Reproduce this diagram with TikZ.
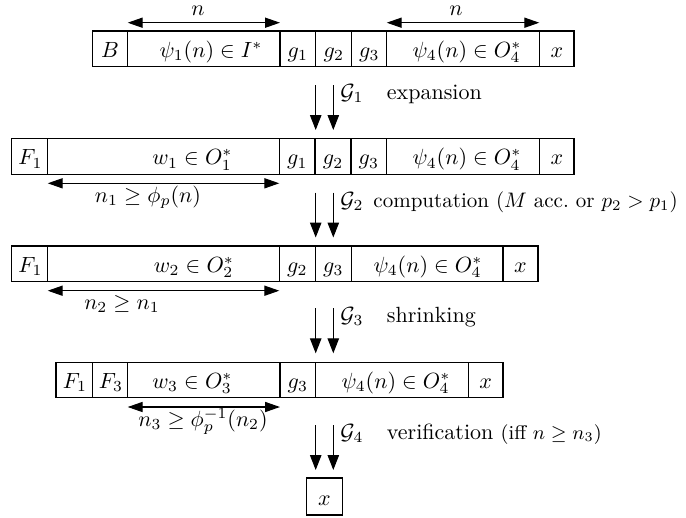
\documentclass[tikz,border=0pt]{standalone}
\usepackage{amsmath,amssymb}
\usetikzlibrary{arrows.meta,fit}
\begin{document}
\begin{tikzpicture}[x=0.4545pt,y=-0.4545pt,
  cell/.style={draw, line width=0.5pt, inner sep=0pt},
  txt/.style={anchor=base, inner sep=0pt},
  side/.style={anchor=base west, inner sep=0pt},
  harrow/.style={{Triangle[length=6.8pt,width=4.6pt]}-{Triangle[length=6.8pt,width=4.6pt]}, line width=0.5pt},
  varrow/.style={-{Triangle[length=6.8pt,width=5.2pt]}, line width=0.5pt}]
\useasboundingbox (0,0) rectangle (686,517);

% ---------- Row 1 ----------
\node[cell, fit={(92.3,31) (127.7,66.7)}]  (r1B) {};
\node[cell, fit={(127.7,31) (280,66.7)}]   (r1p) {};
\node[cell, fit={(280,31) (315.7,66.7)}]   (r1g1) {};
\node[cell, fit={(315.7,31) (351.7,66.7)}] (r1g2) {};
\node[cell, fit={(351.7,31) (386.7,66.7)}] (r1g3) {};
\node[cell, fit={(386.7,31) (539.3,66.7)}] (r1q) {};
\node[cell, fit={(539.3,31) (574,66.7)}]   (r1x) {};
\node[txt] (t1B)  at (110,57.3)   {$B$};
\node[txt] (t1p)  at (211,57.3)   {$\psi_1(n)\in I^*$};
\node[txt] (t1g1) at (297.8,57.3) {$g_1$};
\node[txt] (t1g2) at (333.7,57.3) {$g_2$};
\node[txt] (t1g3) at (369.2,57.3) {$g_3$};
\node[txt] (t1q)  at (467,57.3)   {$\psi_4(n)\in O_4^*$};
\node[txt] (t1x)  at (557,57.3)   {$x$};
\coordinate (h1a) at (127.7,22.7); \coordinate (h1b) at (280,22.7);
\coordinate (h1c) at (386.7,22.7); \coordinate (h1d) at (539.3,22.7);
\draw[harrow] (h1a) -- (h1b);
\draw[harrow] (h1c) -- (h1d);
\node[txt] (n1l) at (198,15.5) {$n$};
\node[txt] (n1r) at (456,15.5) {$n$};

% ---------- arrow 1 ----------
\coordinate (a1s) at (315.7,85);  \coordinate (a1e) at (315.7,130);
\coordinate (b1s) at (333.3,85);  \coordinate (b1e) at (333.3,130);
\draw[varrow] (a1s) -- (a1e);
\draw[varrow] (b1s) -- (b1e);
\node[side] (G1) at (340,99.5) {$\mathcal{G}_1$};
\node[side] (L1) at (386.5,99.5) {expansion};

% ---------- Row 2 ----------
\node[cell, fit={(11.7,138.3) (47.7,174.3)}]  (r2F) {};
\node[cell, fit={(47.7,138.3) (279.3,174.3)}] (r2w) {};
\node[cell, fit={(279.3,138.3) (315,174.3)}]  (r2g1) {};
\node[cell, fit={(315,138.3) (351,174.3)}]    (r2g2) {};
\node[cell, fit={(351,138.3) (386.7,174.3)}]  (r2g3) {};
\node[cell, fit={(386.7,138.3) (539.3,174.3)}] (r2q) {};
\node[cell, fit={(539.3,138.3) (574,174.3)}]  (r2x) {};
\node[txt] (t2F)  at (30.5,164.8)  {$F_1$};
\node[txt] (t2w)  at (192.5,164.8) {$w_1\in O_1^*$};
\node[txt] (t2g1) at (297.2,164.8) {$g_1$};
\node[txt] (t2g2) at (333,164.8)   {$g_2$};
\node[txt] (t2g3) at (368.8,164.8) {$g_3$};
\node[txt] (t2q)  at (467,164.8)   {$\psi_4(n)\in O_4^*$};
\node[txt] (t2x)  at (557,164.8)   {$x$};
\coordinate (h2a) at (47.7,183.3); \coordinate (h2b) at (279.3,183.3);
\draw[harrow] (h2a) -- (h2b);
\node[txt] (m2) at (148,202.5) {$n_1\geq \phi_p(n)$};

% ---------- arrow 2 ----------
\coordinate (a2s) at (315.7,192.5);  \coordinate (a2e) at (315.7,237.5);
\coordinate (b2s) at (333.3,192.5);  \coordinate (b2e) at (333.3,237.5);
\draw[varrow] (a2s) -- (a2e);
\draw[varrow] (b2s) -- (b2e);
\node[side] (G2) at (340,207) {$\mathcal{G}_2$};
\node[side] (L2) at (373,207) {\scalebox{0.955}{computation ($M$ acc.\ or $p_2>p_1$)}};

% ---------- Row 3 ----------
\node[cell, fit={(11.7,246) (47.7,281.7)}]   (r3F) {};
\node[cell, fit={(47.7,246) (279.3,281.7)}]  (r3w) {};
\node[cell, fit={(279.3,246) (315.3,281.7)}] (r3g2) {};
\node[cell, fit={(315.3,246) (351.3,281.7)}] (r3g3) {};
\node[cell, fit={(351.3,246) (503,281.7)}]   (r3q) {};
\node[cell, fit={(503,246) (538,281.7)}]     (r3x) {};
\node[txt] (t3F)  at (30.5,272.2)  {$F_1$};
\node[txt] (t3w)  at (194,272.2)   {$w_2\in O_2^*$};
\node[txt] (t3g2) at (297.3,272.2) {$g_2$};
\node[txt] (t3g3) at (333.3,272.2) {$g_3$};
\node[txt] (t3q)  at (428,272.2)   {$\psi_4(n)\in O_4^*$};
\node[txt] (t3x)  at (520.5,272.2) {$x$};
\coordinate (h3a) at (47.7,290.7); \coordinate (h3b) at (279.3,290.7);
\draw[harrow] (h3a) -- (h3b);
\node[txt] (m3) at (122,309.5) {$n_2\geq n_1$};

% ---------- arrow 3 ----------
\coordinate (a3s) at (315.7,308.3);  \coordinate (a3e) at (315.7,353.3);
\coordinate (b3s) at (333.3,308.3);  \coordinate (b3e) at (333.3,353.3);
\draw[varrow] (a3s) -- (a3e);
\draw[varrow] (b3s) -- (b3e);
\node[side] (G3) at (340,322.5) {$\mathcal{G}_3$};
\node[side] (L3) at (386.5,322.5) {shrinking};

% ---------- Row 4 ----------
\node[cell, fit={(56,362.7) (92.3,397.7)}]    (r4F1) {};
\node[cell, fit={(92.3,362.7) (127.7,397.7)}] (r4F3) {};
\node[cell, fit={(127.7,362.7) (280,397.7)}]  (r4w) {};
\node[cell, fit={(280,362.7) (315.7,397.7)}]  (r4g3) {};
\node[cell, fit={(315.7,362.7) (468.3,397.7)}] (r4q) {};
\node[cell, fit={(468.3,362.7) (503,397.7)}]  (r4x) {};
\node[txt] (t4F1) at (75,388.3)    {$F_1$};
\node[txt] (t4F3) at (111,388.3)   {$F_3$};
\node[txt] (t4w)  at (192.5,388.3) {$w_3\in O_3^*$};
\node[txt] (t4g3) at (297.8,388.3) {$g_3$};
\node[txt] (t4q)  at (396,388.3)   {$\psi_4(n)\in O_4^*$};
\node[txt] (t4x)  at (485.6,388.3) {$x$};
\coordinate (h4a) at (127.7,407); \coordinate (h4b) at (280,407);
\draw[harrow] (h4a) -- (h4b);
\node[txt] (m4) at (203,426.5) {$n_3\geq \phi_p^{-1}(n_2)$};

% ---------- arrow 4 ----------
\coordinate (a4s) at (315.7,425);  \coordinate (a4e) at (315.7,470);
\coordinate (b4s) at (333.3,425);  \coordinate (b4e) at (333.3,470);
\draw[varrow] (a4s) -- (a4e);
\draw[varrow] (b4s) -- (b4e);
\node[side] (G4) at (340,439.5) {$\mathcal{G}_4$};
\node[side] (L4) at (386.5,439.5) {verification {\small (iff $n\geq n_3$)}};

% ---------- final ----------
\node[cell, fit={(306.7,478) (342.3,515)}] (r5x) {};
\node[txt] (t5x) at (324.5,505.5) {$x$};
\end{tikzpicture}
\end{document}
